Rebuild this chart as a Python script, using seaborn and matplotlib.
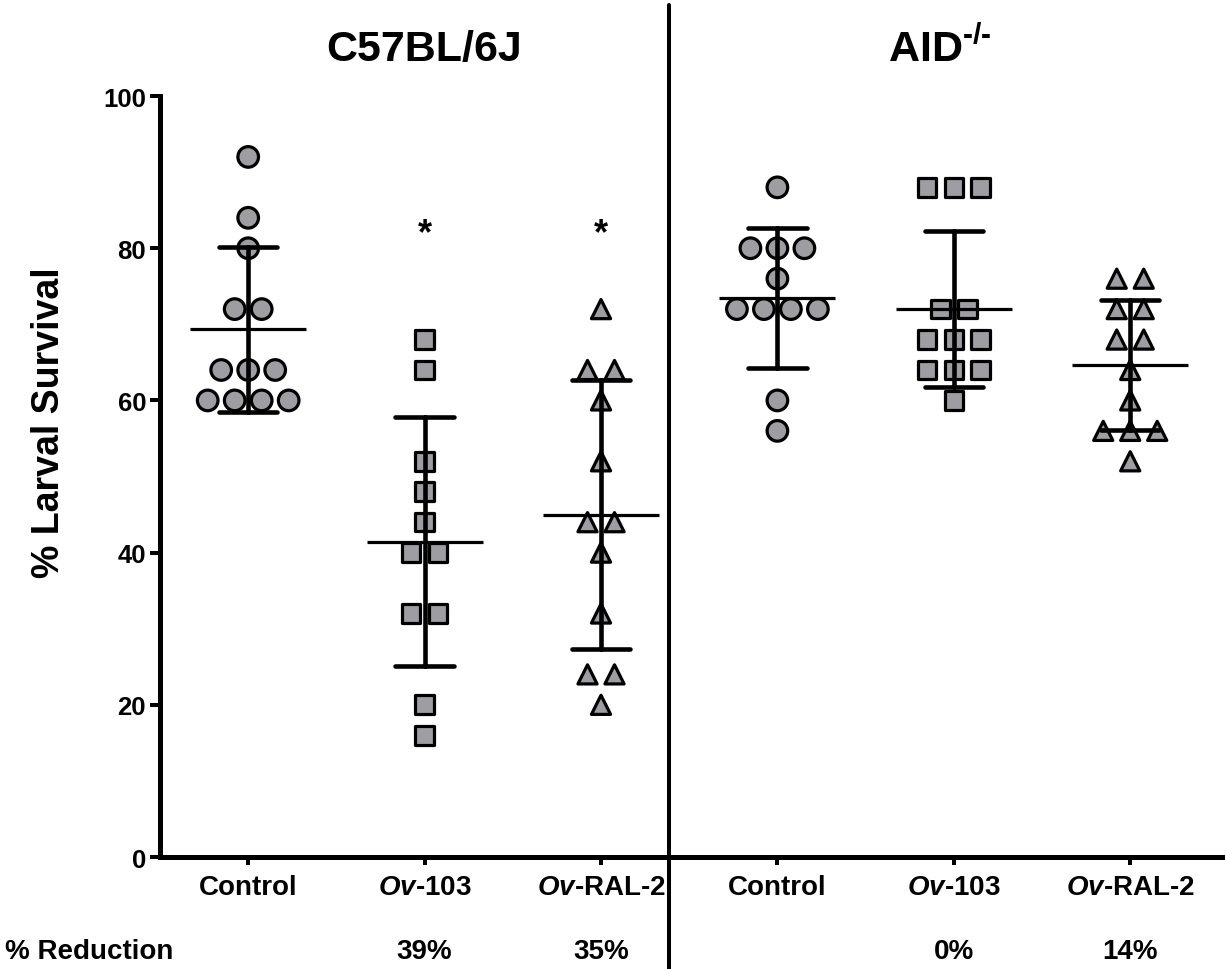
import numpy as np
import pandas as pd
import matplotlib
matplotlib.use('Agg')
import matplotlib.pyplot as plt
import matplotlib.transforms as mtransforms
import seaborn as sns

# % larval survival per mouse
groups = ['B6 Control', 'B6 Ov-103', 'B6 Ov-RAL-2', 'AID Control', 'AID Ov-103', 'AID Ov-RAL-2']
tick_labels = ['Control', r'$\mathit{Ov}$-103', r'$\mathit{Ov}$-RAL-2'] * 2
b6_control = [92, 84, 80, 72, 72, 64, 64, 64, 60, 60, 60, 60]
b6_ov103 = [68, 64, 52, 48, 44, 40, 40, 32, 32, 20, 16]
b6_ral2 = [72, 64, 64, 60, 52, 44, 44, 40, 32, 24, 24, 20]
aid_control = [88, 80, 80, 80, 76, 72, 72, 72, 72, 60, 56]
aid_ov103 = [88, 88, 88, 72, 72, 68, 68, 68, 64, 64, 64, 60]
aid_ral2 = [76, 76, 72, 72, 68, 68, 64, 60, 56, 56, 56, 52]
markers = ['o', 's', '^', 'o', 's', '^']
reduction = ['', '39%', '35%', '', '0%', '14%']
signif = ['', '*', '*', '', '', '']
strains = ['C57BL/6J', r'AID$^{\text{-/-}}$']

values = [b6_control, b6_ov103, b6_ral2, aid_control, aid_ov103, aid_ral2]

rows = []
for i, (g, vals) in enumerate(zip(groups, values)):
    for v in vals:
        rows.append({'group': g, 'pos': i, 'value': v})
df = pd.DataFrame(rows)

# tied values sit side by side, centred on the group (prism style scatter)
spread = 0.153
df['rank'] = df.groupby(['group', 'value']).cumcount()
df['n_tie'] = df.groupby(['group', 'value'])['value'].transform('size')
df['x'] = df['pos'] + (df['rank'] - (df['n_tie'] - 1) / 2) * spread

sns.set_style('ticks')
plt.rcParams['font.family'] = ['Liberation Sans', 'DejaVu Sans']
plt.rcParams['font.weight'] = 'bold'
plt.rcParams['mathtext.fontset'] = 'custom'
plt.rcParams['mathtext.rm'] = 'Liberation Sans:bold'
plt.rcParams['mathtext.it'] = 'Liberation Sans:italic:bold'
plt.rcParams['mathtext.bf'] = 'Liberation Sans:bold'
for k in ['text.color', 'axes.labelcolor', 'xtick.color', 'ytick.color', 'axes.edgecolor']:
    plt.rcParams[k] = 'black'

fig = plt.figure(figsize=(12.26, 9.7), dpi=100)
ax = fig.add_axes([0.1305, 0.11546, 0.8662, 0.7845])

gray = '#9e9ea2'
sizes = {g: {'o': 220, 's': 180, '^': 190}[m] for g, m in zip(groups, markers)}
sns.scatterplot(data=df, x='x', y='value', style='group', style_order=groups,
                markers=dict(zip(groups, markers)), size='group', sizes=sizes,
                color=gray, edgecolor='black', linewidth=2.3, legend=False,
                zorder=2, ax=ax)

# mean +/- SD
sns.pointplot(data=df, x='pos', y='value', native_scale=True, orient='x',
              errorbar='sd', capsize=0.33, color='black', markers='_',
              linestyle='none', markersize=84, markeredgewidth=2.3,
              err_kws={'linewidth': 3.3, 'zorder': 4}, zorder=4, ax=ax)

ax.set_xlim(-0.5, 5.52)
ax.set_ylim(0, 100)
ax.set_yticks([0, 20, 40, 60, 80, 100])
ax.set_xticks(range(len(groups)))
ax.set_xticklabels(tick_labels, fontsize=20, fontweight='bold')
ax.tick_params(axis='y', labelsize=18.5, width=2.9, length=7, pad=3)
ax.tick_params(axis='x', width=2.9, length=6, pad=6)
for lab in ax.get_yticklabels():
    lab.set_fontweight('bold')
ax.set_xlabel('')
ax.set_ylabel('% Larval Survival', fontsize=27, fontweight='bold')
ax.yaxis.set_label_coords(-0.0876, 0.572)

sns.despine(ax=ax)
for side in ['left', 'bottom']:
    ax.spines[side].set_linewidth(3.6)

# divider between the two strains
ax.plot([2.385, 2.385], [-0.147, 1.12], transform=ax.get_xaxis_transform(),
        color='black', lw=2.9, clip_on=False)

tr_top = mtransforms.blended_transform_factory(ax.transData, ax.transAxes)
ax.text(1.0, 1.062, strains[0], transform=tr_top, ha='center', va='center',
        fontsize=31, fontweight='bold')
ax.text(3.92, 1.062, strains[1], transform=tr_top, ha='center', va='center',
        fontsize=31, fontweight='bold')

for i, s in enumerate(signif):
    if s:
        ax.text(i, 80.6, s, ha='center', va='baseline', fontsize=26, fontweight='bold')

tr_bot = mtransforms.blended_transform_factory(ax.transData, fig.transFigure)
fig.text(0.004, 0.0186, '% Reduction', ha='left', va='center', fontsize=20, fontweight='bold')
for i, r in enumerate(reduction):
    if r:
        ax.text(i, 0.0186, r, transform=tr_bot, ha='center', va='center',
                fontsize=20, fontweight='bold')

fig.savefig('out.png', dpi=100)
